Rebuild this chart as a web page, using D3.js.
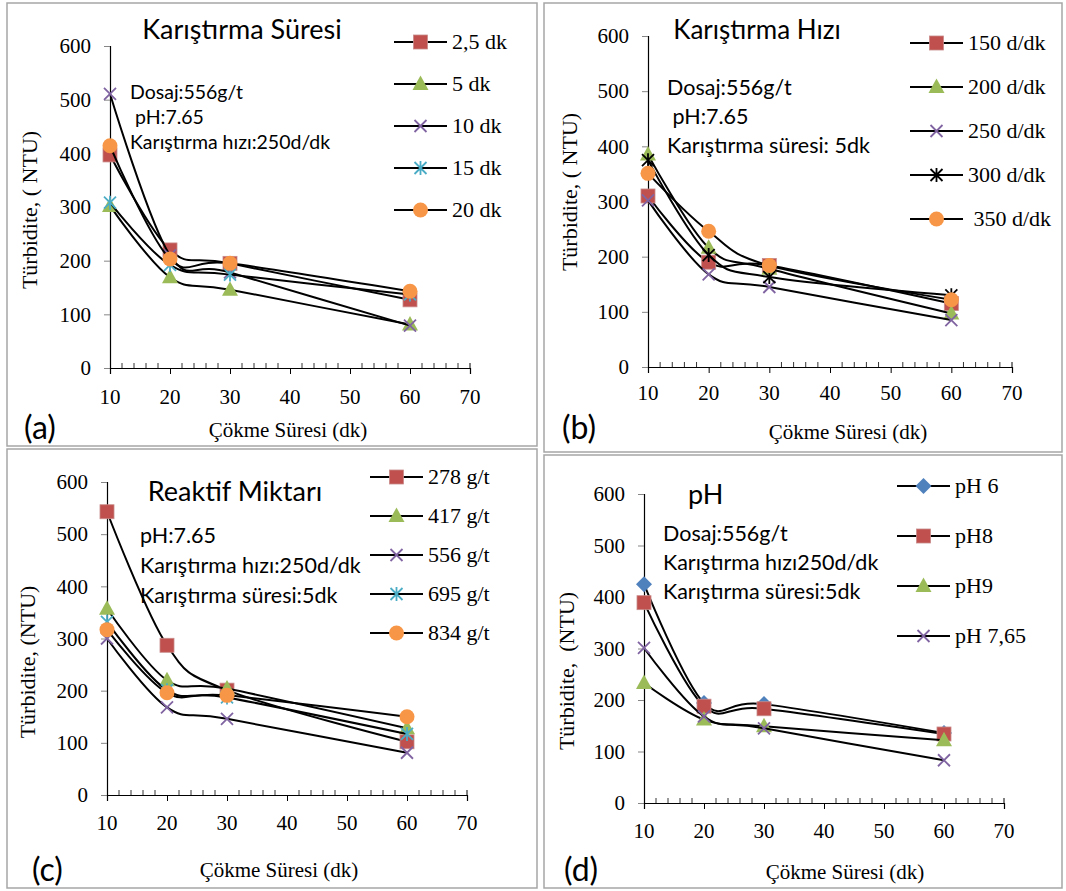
<!DOCTYPE html>
<html>
<head>
<meta charset="utf-8">
<script src="https://cdn.jsdelivr.net/npm/d3@7"></script>
<style>
  body { margin: 0; background: #fff; }
  svg { display: block; }
  .serif { font-family: "Liberation Serif", "Times New Roman", serif; }
  .sans { font-family: Lato, "Open Sans", sans-serif; }
</style>
</head>
<body>
<div id="chart"></div>
<script>
// settling times on the x axis (dk)
const cokmeSuresi = [10, 20, 30, 60];
const xTicks = [10, 20, 30, 40, 50, 60, 70];
const yTicks = [0, 100, 200, 300, 400, 500, 600];

// (a) mixing time
const sureLabels = ["2,5 dk", "5 dk", "10 dk", "15 dk", "20 dk"];
const sureValues = [
  [397, 220, 195, 127],
  [302, 169, 146, 81],
  [511, 210, 178, 79],
  [308, 192, 174, 137],
  [414, 203, 195, 143]
];

// (b) mixing speed
const hizLabels = ["150 d/dk", "200 d/dk", "250 d/dk", "300 d/dk", " 350 d/dk"];
const hizValues = [
  [310, 190, 184, 115],
  [385, 216, 178, 97],
  [302, 168, 145, 85],
  [375, 203, 163, 130],
  [351, 246, 184, 122]
];

// (c) reagent amount
const miktarLabels = ["278 g/t", "417 g/t", "556 g/t", "695 g/t", "834 g/t"];
const miktarValues = [
  [543, 287, 201, 102],
  [357, 220, 204, 128],
  [300, 168, 146, 81],
  [332, 201, 187, 117],
  [317, 196, 191, 150]
];

// (d) pH
const phLabels = ["pH 6", "pH8", "pH9", "pH 7,65"];
const phValues = [
  [425, 194, 192, 136],
  [389, 188, 183, 134],
  [233, 162, 149, 122],
  [301, 168, 145, 83]
];

const W = 1066, H = 891;
const svg = d3.select("#chart").append("svg")
  .attr("width", W).attr("height", H);

// marker painters
const C = {
  red: "#c0504d", green: "#9bbb59", purple: "#8064a2",
  cyan: "#4bacc6", orange: "#f79646", blue: "#4f81bd"
};
function marker(g, type, x, y) {
  const s = 7;
  if (type === "square") {
    g.append("rect").attr("x", x - s).attr("y", y - s).attr("width", 2 * s).attr("height", 2 * s)
      .attr("fill", C.red).attr("stroke", "#c98b8a").attr("stroke-width", 0.8);
  } else if (type === "triangle") {
    g.append("path").attr("d", `M${x},${y - 8.5}L${x + 8},${y + 6}L${x - 8},${y + 6}Z`)
      .attr("fill", C.green);
  } else if (type === "circle") {
    g.append("circle").attr("cx", x).attr("cy", y).attr("r", 7.5).attr("fill", C.orange);
  } else if (type === "diamond") {
    g.append("path").attr("d", `M${x},${y - 8}L${x + 8},${y}L${x},${y + 8}L${x - 8},${y}Z`)
      .attr("fill", C.blue);
  } else if (type === "x") {
    g.append("path").attr("d", `M${x - 6},${y - 6}L${x + 6},${y + 6}M${x - 6},${y + 6}L${x + 6},${y - 6}`)
      .attr("stroke", C.purple).attr("stroke-width", 1.8);
  } else if (type === "star" || type === "blackstar") {
    const col = type === "star" ? C.cyan : "#000";
    g.append("path").attr("d", `M${x - 6},${y - 6}L${x + 6},${y + 6}M${x - 6},${y + 6}L${x + 6},${y - 6}M${x},${y - 7}L${x},${y + 7}`)
      .attr("stroke", col).attr("stroke-width", 1.8);
  }
}

const panels = [
  {
    frame: [7, 3, 530, 443], x: [110, 470], y: [368, 46], xLab: 404,
    title: "Karıştırma Süresi", titlePos: [242, 39], titleSize: 27,
    notes: ["Dosaj:556g/t", " pH:7.65", "Karıştırma hızı:250d/dk"], notePos: [130, 99], noteStep: 25, noteSize: 19.5,
    labels: sureLabels, values: sureValues, markers: ["square", "triangle", "x", "star", "circle"],
    legend: [394, 42], legendStep: 42,
    yTitle: "Türbidite, ( NTU)", yTitlePos: [30, 210], xTitlePos: [288, 437], tag: "(a)", tagPos: [24, 439]
  },
  {
    frame: [544, 3, 518, 449], x: [648, 1012], y: [367, 36], xLab: 400,
    title: "Karıştırma Hızı", titlePos: [757, 39], titleSize: 26,
    notes: ["Dosaj:556g/t", " pH:7.65", "Karıştırma süresi: 5dk"], notePos: [667, 95], noteStep: 29, noteSize: 21.5,
    labels: hizLabels, values: hizValues, markers: ["square", "triangle", "x", "blackstar", "circle"],
    legend: [910, 43], legendStep: 44,
    yTitle: "Türbidite, ( NTU)", yTitlePos: [570, 192], xTitlePos: [848, 439], tag: "(b)", tagPos: [562, 439]
  },
  {
    frame: [7, 449, 530, 439], x: [107, 467], y: [795, 482], xLab: 830,
    title: "Reaktif Miktarı", titlePos: [235, 501], titleSize: 27,
    notes: ["pH:7.65", "Karıştırma hızı:250d/dk", "Karıştırma süresi:5dk"], notePos: [140, 543], noteStep: 30, noteSize: 21.5,
    labels: miktarLabels, values: miktarValues, markers: ["square", "triangle", "x", "star", "circle"],
    legend: [370, 477], legendStep: 39,
    yTitle: "Türbidite, (NTU)", yTitlePos: [28, 662], xTitlePos: [279, 877], tag: "(c)", tagPos: [32, 881]
  },
  {
    frame: [544, 455, 518, 433], x: [644, 1004], y: [803, 494], xLab: 838,
    title: "pH", titlePos: [688, 504], titleSize: 27, titleAnchor: "start",
    notes: ["Dosaj:556g/t", "Karıştırma hızı250d/dk", "Karıştırma süresi:5dk"], notePos: [663, 541], noteStep: 29, noteSize: 21.5,
    labels: phLabels, values: phValues, markers: ["diamond", "square", "triangle", "x"],
    legend: [897, 486], legendStep: 50,
    yTitle: "Türbidite,  (NTU)", yTitlePos: [567, 671], xTitlePos: [845, 879], tag: "(d)", tagPos: [564, 881]
  }
];

panels.forEach(p => {
  const g = svg.append("g");
  const [fx, fy, fw, fh] = p.frame;
  g.append("rect").attr("x", fx).attr("y", fy).attr("width", fw).attr("height", fh)
    .attr("fill", "#fff").attr("stroke", "#a6a6a6").attr("stroke-width", 1.5);

  const x = d3.scaleLinear().domain([10, 70]).range(p.x);
  const y = d3.scaleLinear().domain([0, 600]).range(p.y);

  // y axis
  const yAxis = g.append("g").attr("transform", `translate(${p.x[0]},0)`)
    .call(d3.axisLeft(y).tickValues(yTicks).tickSize(6).tickPadding(13));
  yAxis.select(".domain").attr("stroke", "#000").attr("stroke-width", 1.2);
  yAxis.selectAll(".tick line").attr("stroke", "#868686");
  yAxis.selectAll("text").attr("class", "serif").attr("font-size", 21).attr("fill", "#000");

  // x axis: major ticks below, minor ticks above
  const xAxis = g.append("g").attr("transform", `translate(0,${p.y[0]})`)
    .call(d3.axisBottom(x).tickValues(xTicks).tickSize(6).tickFormat(""));
  xAxis.select(".domain").attr("stroke", "#000").attr("stroke-width", 1.2);
  xAxis.selectAll(".tick line").attr("stroke", "#000");
  const minor = d3.range(12, 70, 2).filter(v => v % 10 !== 0);
  g.append("g").selectAll("line").data(minor).join("line")
    .attr("x1", d => x(d)).attr("x2", d => x(d))
    .attr("y1", p.y[0]).attr("y2", p.y[0] - 5)
    .attr("stroke", "#000").attr("stroke-width", 0.8);
  g.append("line").attr("x1", x(70)).attr("x2", x(70)).attr("y1", p.y[0]).attr("y2", p.y[0] - 5)
    .attr("stroke", "#000");
  g.append("g").selectAll("text").data(xTicks).join("text")
    .attr("class", "serif").attr("font-size", 21).attr("text-anchor", "middle")
    .attr("x", d => x(d)).attr("y", p.xLab).text(d => d);

  // axis titles
  g.append("text").attr("class", "serif").attr("font-size", 22).attr("text-anchor", "middle")
    .style("white-space", "pre")
    .attr("transform", `translate(${p.yTitlePos[0] + 7},${p.yTitlePos[1]}) rotate(-90)`)
    .text(p.yTitle);
  g.append("text").attr("class", "serif").attr("font-size", 21).attr("text-anchor", "middle")
    .attr("x", p.xTitlePos[0]).attr("y", p.xTitlePos[1]).text("Çökme Süresi (dk)");
  g.append("text").attr("class", "sans").attr("font-size", 32)
    .attr("x", p.tagPos[0]).attr("y", p.tagPos[1]).text(p.tag);

  // title + notes
  g.append("text").attr("class", "sans").attr("font-size", p.titleSize)
    .attr("text-anchor", p.titleAnchor || "middle")
    .attr("x", p.titlePos[0]).attr("y", p.titlePos[1]).text(p.title);
  g.append("g").selectAll("text").data(p.notes).join("text")
    .attr("class", "sans").attr("font-size", p.noteSize)
    .style("white-space", "pre")
    .attr("x", p.notePos[0]).attr("y", (d, i) => p.notePos[1] + i * p.noteStep).text(d => d);

  // series
  const line = d3.line().x((d, i) => x(cokmeSuresi[i])).y(d => y(d)).curve(d3.curveCardinal.tension(0));
  p.values.forEach((vals, si) => {
    const sg = g.append("g");
    sg.append("path").attr("d", line(vals)).attr("fill", "none")
      .attr("stroke", "#000").attr("stroke-width", 2);
    vals.forEach((v, i) => marker(sg, p.markers[si], x(cokmeSuresi[i]), y(v)));
  });

  // legend
  p.labels.forEach((lab, i) => {
    const ly = p.legend[1] + i * p.legendStep;
    const lg = g.append("g");
    lg.append("line").attr("x1", p.legend[0]).attr("x2", p.legend[0] + 53)
      .attr("y1", ly).attr("y2", ly).attr("stroke", "#000").attr("stroke-width", 2);
    marker(lg, p.markers[i], p.legend[0] + 26.5, ly);
    lg.append("text").attr("class", "serif").attr("font-size", 22)
      .style("white-space", "pre")
      .attr("x", p.legend[0] + 58).attr("y", ly + 7).text(lab);
  });
});
</script>
</body>
</html>
